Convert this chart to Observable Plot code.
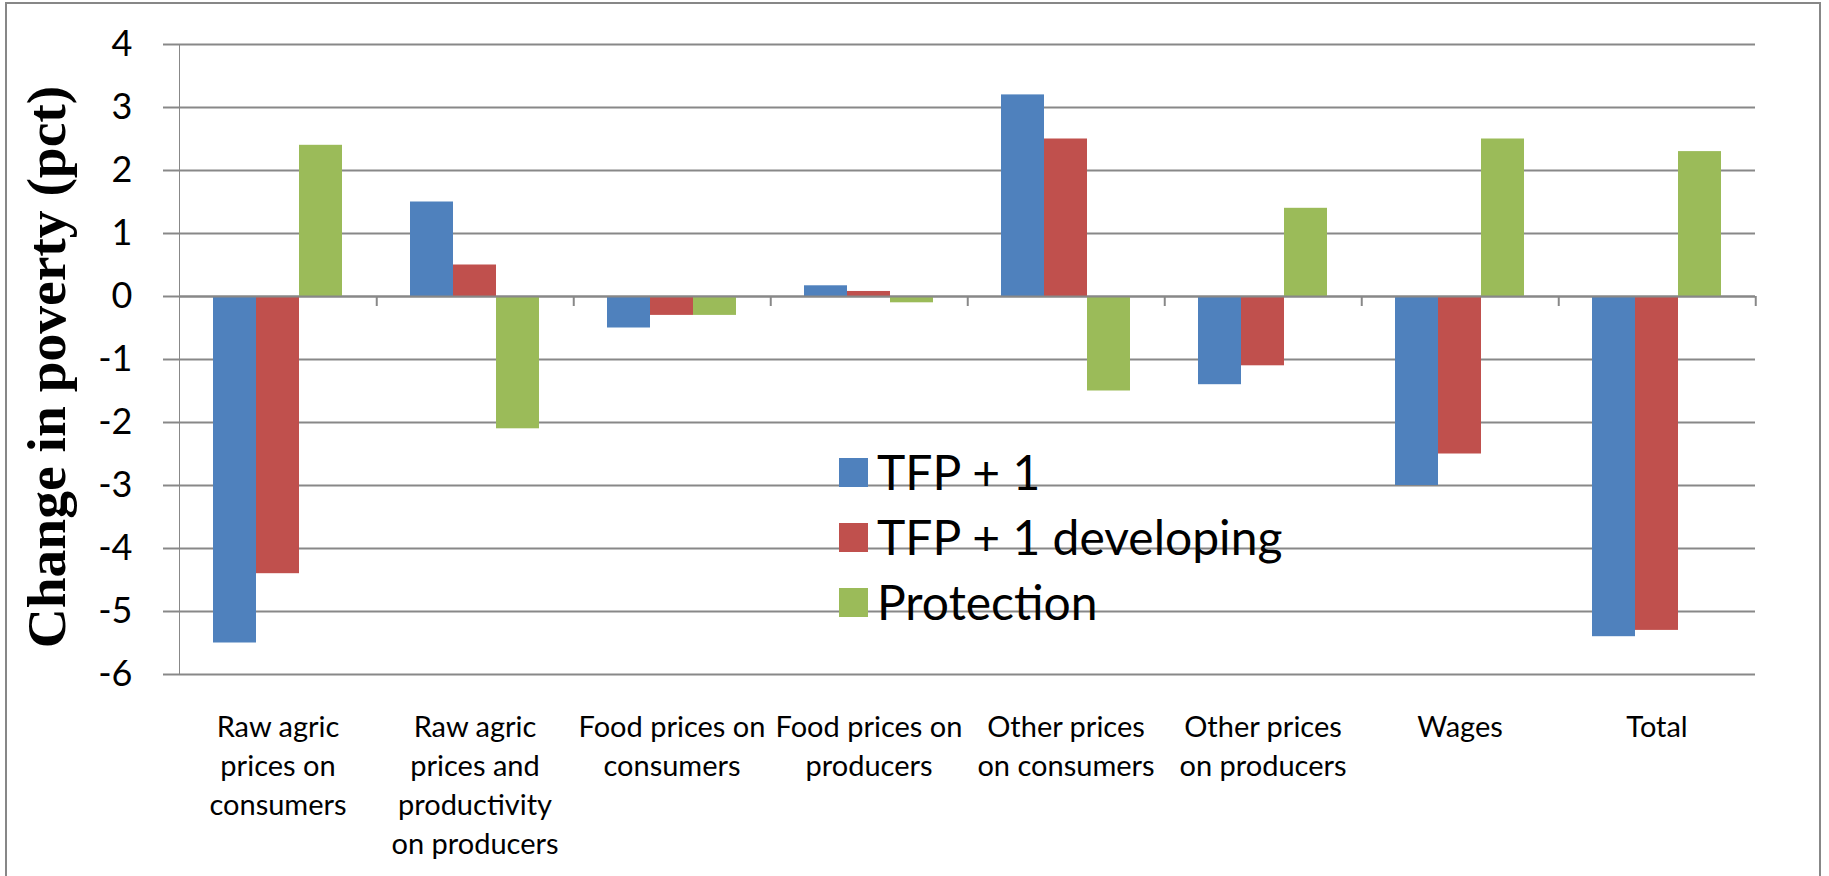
<!DOCTYPE html>
<html>
<head>
<meta charset="utf-8">
<script src="https://cdn.jsdelivr.net/npm/d3@7"></script>
<script src="https://cdn.jsdelivr.net/npm/@observablehq/plot@0.6"></script>
<style>
  html, body { margin: 0; padding: 0; background: #fff; }
  #wrap { position: relative; width: 1829px; height: 876px; overflow: hidden; background: #fff; }
  #border { position: absolute; left: 5px; top: 2px; width: 1816px; height: 920px; border: 2px solid #878787; box-sizing: border-box; }
  #chart { position: absolute; left: 0; top: 0; }
  #chart svg { display: block; overflow: visible; }
  #chart svg text { fill: #000; }
  #chart svg [aria-label^="y-axis"] { stroke-width: 2px; }
  #ytitle { position: absolute; left: 46px; top: 367px; transform: translate(-50%, -50%) rotate(-90deg);
            white-space: nowrap; font: bold 55.5px "Liberation Serif", "DejaVu Serif", serif; color: #000; }
  .lg { position: absolute; left: 839px; height: 48px; display: flex; align-items: center;
        font: 48px Lato, "Open Sans", sans-serif; color: #000; white-space: nowrap; line-height: 48px; }
  .lg .sw { width: 29px; height: 29px; margin-right: 9px; flex: none; }
</style>
</head>
<body>
<div id="wrap">
  <div id="border"></div>
  <div id="chart"></div>
  <div id="ytitle">Change in poverty (pct)</div>
  <div id="legend"></div>
</div>
<script>
// ---- data ----
const categories = [
  "Raw agric prices on consumers",
  "Raw agric prices and productivity on producers",
  "Food prices on consumers",
  "Food prices on producers",
  "Other prices on consumers",
  "Other prices on producers",
  "Wages",
  "Total"
];
const tickLabels = [
  "Raw agric\nprices on\nconsumers",
  "Raw agric\nprices and\nproductivity\non producers",
  "Food prices on\nconsumers",
  "Food prices on\nproducers",
  "Other prices\non consumers",
  "Other prices\non producers",
  "Wages",
  "Total"
];
const series = ["TFP + 1", "TFP + 1 developing", "Protection"];
const tfp        = [-5.5,  1.5, -0.5,  0.17,  3.2, -1.4, -3.0, -5.4];
const tfpDev     = [-4.4,  0.5, -0.3,  0.08,  2.5, -1.1, -2.5, -5.3];
const protection = [ 2.4, -2.1, -0.3, -0.1,  -1.5,  1.4,  2.5,  2.3];
const yTicks = [-6, -5, -4, -3, -2, -1, 0, 1, 2, 3, 4];
const colors = ["#4F81BD", "#C0504D", "#9BBB59"];

const seriesValues = [tfp, tfpDev, protection];
const data = categories.flatMap((c, i) =>
  series.map((s, j) => ({category: c, series: s, value: seriesValues[j][i]})));

// ---- layout ----
const W = 1829, H = 876;
const ml = 177, mr = 72, mt = 44, mb = 202;
const facetW = (W - ml - mr) / categories.length;
const grid = "#888888";

const chart = Plot.plot({
  width: W, height: H,
  marginLeft: ml, marginRight: mr, marginTop: mt, marginBottom: mb,
  style: {fontFamily: "Lato, 'Open Sans', sans-serif", fontSize: "36px", color: grid, background: "transparent", overflow: "visible"},
  fx: {domain: categories, padding: 0, axis: null},
  x: {domain: series, paddingInner: 0, paddingOuter: 0.75, axis: null},
  y: {domain: [-6, 4], ticks: yTicks, tickSize: 16, tickPadding: 31, line: true, label: null, tickFormat: d => String(d)},
  color: {domain: series, range: colors},
  marks: [
    Plot.ruleY(yTicks, {stroke: grid, strokeWidth: 2}),
    Plot.barY(data, {fx: "category", x: "series", y: "value", fill: "series"}),
    Plot.ruleY([0], {stroke: grid, strokeWidth: 2}),
    Plot.ruleX(categories, {fx: d => d, x: null, y1: 0, y2: 0, insetBottom: -10, dx: facetW / 2, stroke: grid, strokeWidth: 2}),
    Plot.text(categories, {fx: d => d, text: (d, i) => tickLabels[i], frameAnchor: "bottom", lineAnchor: "top",
      dy: 35, fontSize: 29, lineHeight: 1.34, fill: "#000"})
  ]
});
document.getElementById("chart").appendChild(chart);

// ---- legend ----
const legend = document.getElementById("legend");
const rowCenters = [472, 537, 602];
series.forEach((s, j) => {
  const row = document.createElement("div");
  row.className = "lg";
  row.style.top = (rowCenters[j] - 24) + "px";
  const sw = document.createElement("span");
  sw.className = "sw";
  sw.style.background = colors[j];
  const tx = document.createElement("span");
  tx.textContent = s;
  row.appendChild(sw);
  row.appendChild(tx);
  legend.appendChild(row);
});
</script>
</body>
</html>
